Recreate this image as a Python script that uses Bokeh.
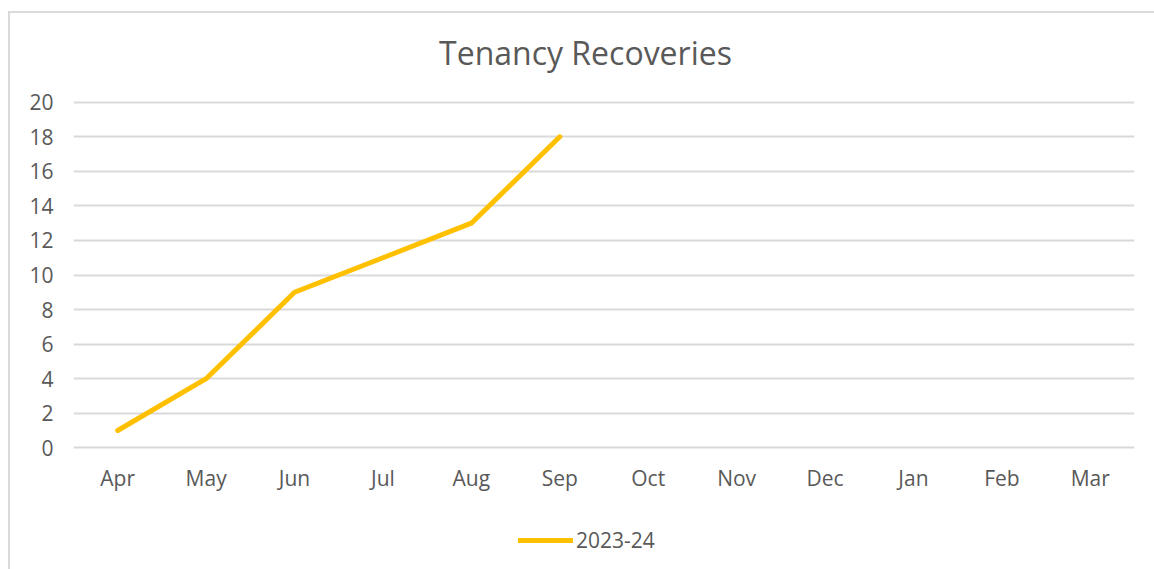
from bokeh.plotting import figure
from bokeh.layouts import column
from bokeh.models import (Range1d, FixedTicker, Legend, LegendItem, Label,
                          ColumnDataSource)
from bokeh.embed import file_html
from bokeh.resources import INLINE

months = ["Apr", "May", "Jun", "Jul", "Aug", "Sep", "Oct", "Nov", "Dec", "Jan", "Feb", "Mar"]
months_with_data = ["Apr", "May", "Jun", "Jul", "Aug", "Sep"]
recoveries_2023_24 = [1, 4, 9, 11, 13, 18]
y_ticks = [0, 2, 4, 6, 8, 10, 12, 14, 16, 18, 20]
series_name = "2023-24"
title_text = "Tenancy Recoveries"

FONT = "Open Sans"
TXT = "#595959"
GRID = "#D9D9D9"
GOLD = "#FFC000"

W = 1144
H_TITLE = 70
H_MAIN = 417
H_LEG = 69


def strip(height):
    f = figure(x_range=months, y_range=Range1d(1000, 1001), width=W, height=height,
               output_backend="svg", toolbar_location=None,
               x_axis_location=None, y_axis_location=None,
               min_border_left=0, min_border_right=0, min_border_top=0,
               min_border_bottom=0)
    f.outline_line_color = None
    f.xgrid.grid_line_color = None
    f.ygrid.grid_line_color = None
    f.background_fill_color = "white"
    f.border_fill_color = "white"
    return f


# Title strip
pt = strip(H_TITLE)
pt.add_layout(Label(x=512, y=31, x_units="screen", y_units="screen",
                    text=title_text, text_font=FONT, text_font_size="32px",
                    text_color=TXT, text_align="center",
                    text_baseline="alphabetic"))

# Main chart
p = figure(x_range=months, y_range=Range1d(-0.1, 20.1), width=W, height=H_MAIN,
           output_backend="svg", toolbar_location=None,
           min_border_left=63, min_border_right=20, min_border_top=17,
           min_border_bottom=51)
p.outline_line_color = None
p.background_fill_color = "white"
p.border_fill_color = "white"
p.x_range.range_padding = 0

src = ColumnDataSource(dict(m=months_with_data, v=recoveries_2023_24))
r = p.line("m", "v", source=src, line_color=GOLD, line_width=5,
           line_cap="round", line_join="round")

p.yaxis.ticker = FixedTicker(ticks=y_ticks)
for ax in (p.xaxis[0], p.yaxis[0]):
    ax.axis_line_color = None
    ax.major_tick_line_color = None
    ax.minor_tick_line_color = None
    ax.major_tick_out = 0
    ax.major_tick_in = 0
    ax.major_label_text_font = FONT
    ax.major_label_text_font_size = "21px"
    ax.major_label_text_color = TXT
p.yaxis.major_label_standoff = 20
p.xaxis.major_label_standoff = 14

p.xgrid.grid_line_color = None
p.ygrid.grid_line_color = GRID
p.ygrid.grid_line_width = 2

# Legend strip (separate canvas so the legend is not clipped by the main frame)
pl = strip(H_LEG)
rl = pl.line("m", "v", source=src, line_color=GOLD, line_width=5, line_cap="round")
legend = Legend(items=[LegendItem(label=series_name, renderers=[rl])],
                location=(445, 15), orientation="horizontal",
                border_line_alpha=0, background_fill_alpha=0,
                padding=0, margin=0, glyph_width=55, glyph_height=24,
                label_standoff=3, label_text_font=FONT,
                label_text_font_size="21px", label_text_color=TXT)
pl.add_layout(legend)

layout = column(pt, p, pl, spacing=0,
                styles={"margin-left": "8px", "margin-top": "11px",
                        "border-left": "2px solid #D9D9D9",
                        "border-top": "2px solid #D9D9D9"})

open("out.html", "w").write(file_html(layout, INLINE))
